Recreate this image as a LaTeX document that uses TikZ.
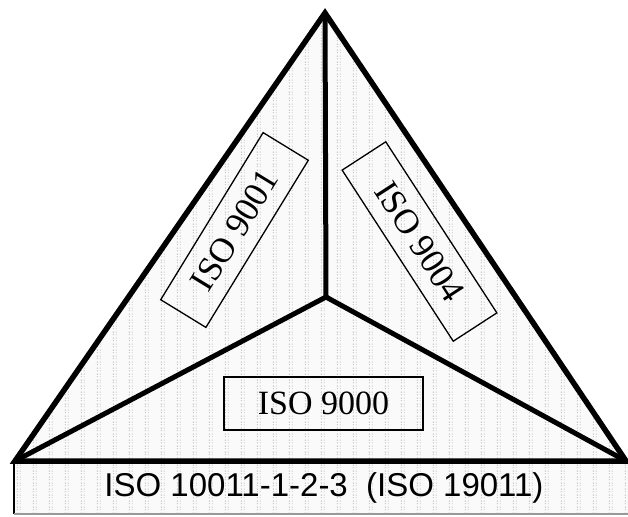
\documentclass[tikz,border=0pt]{standalone}
\usepackage{fontspec}
\usetikzlibrary{patterns}
\setmainfont{Liberation Serif}
\newfontfamily\arialfont{Liberation Sans}
\pgfdeclarepatternformonly{isodots}{\pgfqpoint{0pt}{0pt}}{\pgfqpoint{16pt}{6pt}}{\pgfqpoint{16pt}{6pt}}{%
  \pgfpathrectangle{\pgfqpoint{1pt}{1pt}}{\pgfqpoint{1pt}{1pt}}%
  \pgfpathrectangle{\pgfqpoint{4pt}{1pt}}{\pgfqpoint{1pt}{1pt}}%
  \pgfpathrectangle{\pgfqpoint{1pt}{4pt}}{\pgfqpoint{1pt}{1pt}}%
  \pgfpathrectangle{\pgfqpoint{4pt}{4pt}}{\pgfqpoint{1pt}{1pt}}%
  \pgfusepath{fill}}
\begin{document}
\begin{tikzpicture}[x=1pt,y=-1pt,
  bgfill/.style={fill=black!2,postaction={pattern=isodots,pattern color=black!30}},
  thickline/.style={line width=5.5pt,line join=miter},
  spoke/.style={line width=5pt,line cap=round},
  isobox/.style={draw,line width=1.3pt,inner sep=0pt,
    font=\fontsize{35}{40}\selectfont},
  basebox/.style={draw,line width=2pt,inner sep=0pt,
    font=\fontsize{34}{40}\selectfont}]
\useasboundingbox (0,0) rectangle (628,516);
\coordinate (A) at (325,13);
\coordinate (L) at (15,461);
\coordinate (R) at (626,461);
\coordinate (C) at (326,297);
\coordinate (BL) at (14,514);
\coordinate (BR) at (628,514);
% background
\fill[bgfill] (L) -- (A) -- (R) -- cycle;
\fill[bgfill] (14,461) rectangle (BR);
% bottom rectangle borders
\draw[line width=1.2pt] (14,461) -- (BL);
\draw[line width=1.2pt,black!40] (BL) -- (BR);
% triangle
\draw[thickline] (L) -- (A) -- (R) -- cycle;
\draw[spoke] (C) -- (A);
\draw[spoke] (C) -- (L);
\draw[spoke] (C) -- (R);
% labels
\node[basebox,minimum width=199,minimum height=53] (n9000) at (323.5,403.5) {ISO 9000};
\node[isobox,rotate=58.5,minimum width=196,minimum height=53] (n9001) at (234.5,230) {ISO 9001};
\node[isobox,rotate=-57,minimum width=204,minimum height=52] (n9004) at (419.5,241.5) {ISO 9004};
\node[font=\arialfont\fontsize{33}{40}\selectfont,inner sep=0pt] (base) at (324,488) {ISO 10011-1-2-3\ \ (ISO 19011)};
\end{tikzpicture}
\end{document}
